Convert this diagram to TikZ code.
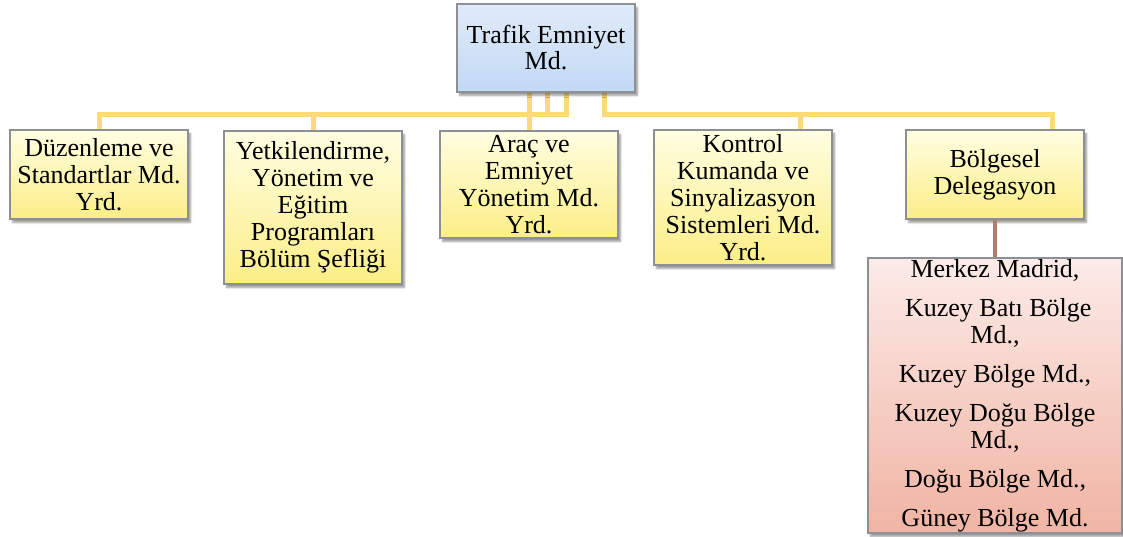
\documentclass[tikz,border=0pt]{standalone}
\usepackage{fontspec}
\setmainfont{Liberation Serif}
\usetikzlibrary{shadows.blur}
\definecolor{blueTop}{HTML}{E0EBF9}
\definecolor{blueBot}{HTML}{C2D9F4}
\definecolor{yelTop}{HTML}{FFFEE2}
\definecolor{yelBot}{HTML}{FBEE86}
\definecolor{pinkTop}{HTML}{FCEBE8}
\definecolor{pinkBot}{HTML}{F0B4A3}
\definecolor{busCol}{HTML}{FCD97A}
\definecolor{subCol}{HTML}{B07E6E}
\definecolor{edgeCol}{HTML}{8C8F96}
\tikzset{
  box/.style={draw=edgeCol, line width=1.1pt, align=center, inner sep=0pt,
    font=\fontsize{26}{27}\selectfont,
    blur shadow={shadow xshift=2.5pt, shadow yshift=-3.5pt, shadow blur steps=6, shadow opacity=40}},
  headbox/.style={box, top color=blueTop, bottom color=blueBot,
    font=\fontsize{26}{26}\selectfont},
  unitbox/.style={box, top color=yelTop, bottom color=yelBot},
  regionbox/.style={box, top color=pinkTop, bottom color=pinkBot},
  bus/.style={draw=busCol, line width=5pt},
  sub/.style={draw=subCol, line width=4pt}
}
\begin{document}
\begin{tikzpicture}[x=1pt,y=-1pt]
\useasboundingbox (0,0) rectangle (1123,537);

% connectors (drawn first, boxes sit on top)
\coordinate (headfoot) at (546,92);
\coordinate (duzd) at (99,130);
\coordinate (yetd) at (313,131);
\coordinate (arad) at (529,131);
\coordinate (kond) at (800,130);
\coordinate (bold) at (1052,130);
\draw[bus] ([xshift=1pt]headfoot) -- ++(0,23) -| (duzd);
\draw[bus] ([xshift=20pt]headfoot) -- ++(0,23) -| (yetd);
\draw[bus] ([xshift=-17pt]headfoot) -- (arad);
\draw[bus] ([xshift=58pt]headfoot) -- ++(0,23) -| (kond);
\draw[bus] ([xshift=58pt]headfoot) -- ++(0,23) -| (bold);

% boxes
\node[headbox, minimum width=178pt, minimum height=88pt] (head) at (546,48)
  {Trafik Emniyet\\Md.};
\node[unitbox, minimum width=178pt, minimum height=89pt] (duz) at (99,174.5)
  {Düzenleme ve\\Standartlar Md.\\Yrd.};
\node[unitbox, minimum width=178pt, minimum height=153pt] (yet) at (313,207.5)
  {Yetkilendirme,\\Yönetim ve\\Eğitim\\Programları\\Bölüm Şefliği};
\node[unitbox, minimum width=178pt, minimum height=107pt] (ara) at (529,184.5)
  {Araç ve\\Emniyet\\Yönetim Md.\\Yrd.};
\node[unitbox, minimum width=178pt, minimum height=135pt] (kon) at (743,197.5)
  {Kontrol\\Kumanda ve\\Sinyalizasyon\\Sistemleri Md.\\Yrd.};
\node[unitbox, minimum width=178pt, minimum height=89pt] (bol) at (995,174.5)
  {Bölgesel\\Delegasyon};
\node[regionbox, minimum width=254pt, minimum height=275pt] (reg) at (995,395.5)
  {Merkez Madrid,\\[12pt]
   \ Kuzey Batı Bölge\\Md.,\\[12pt]
   Kuzey Bölge Md.,\\[12pt]
   Kuzey Doğu Bölge\\Md.,\\[12pt]
   Doğu Bölge Md.,\\[12pt]
   Güney Bölge Md.};

\draw[sub] (bol.south) -- (reg.north);
\end{tikzpicture}
\end{document}
